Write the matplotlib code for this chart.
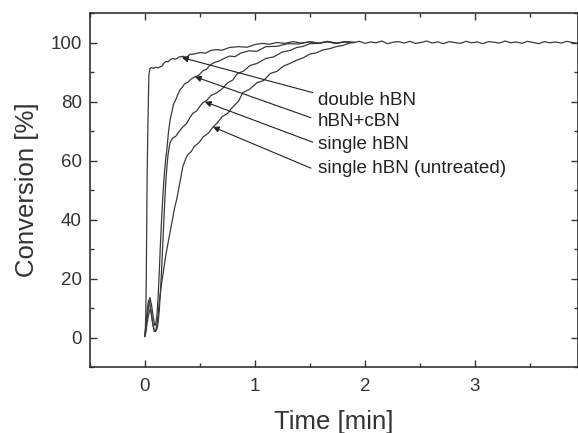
import numpy as np
import matplotlib
matplotlib.use('Agg')
import matplotlib.pyplot as plt
from matplotlib.ticker import MultipleLocator

plt.rcParams['font.family'] = ['Liberation Sans', 'DejaVu Sans']

# data: time [min], conversion [%]
t_double = [0.0, 0.004, 0.008, 0.012, 0.016, 0.02, 0.026, 0.032, 0.036, 0.045, 0.06, 0.08, 0.1, 0.12,
            0.14, 0.155, 0.17, 0.19, 0.21, 0.23, 0.255, 0.28, 0.31, 0.345, 0.38, 0.41, 0.45, 0.5, 0.55,
            0.6, 0.65, 0.7, 0.77, 0.85, 0.93, 1.0, 1.07, 1.13, 1.2, 1.27, 1.35, 1.42, 1.5, 1.58, 1.66,
            1.74, 1.82, 1.9]
c_double = [0.5, 3, 9, 20, 38, 55, 70, 82, 89, 91.2, 91.5, 91.3, 91.6, 91.4, 91.8, 92.0, 92.9, 93.6,
            93.4, 94.2, 94.6, 94.3, 95.1, 95.3, 95.0, 96.0, 96.1, 96.6, 96.4, 97.3, 97.6, 97.4, 98.3,
            98.6, 98.4, 99.3, 99.7, 99.4, 100.0, 99.7, 100.3, 99.8, 100.2, 99.7, 100.4, 99.8, 100.2, 100.0]

t_hc = [0.0, 0.01, 0.02, 0.03, 0.045, 0.06, 0.075, 0.09, 0.1, 0.11, 0.12, 0.13, 0.14, 0.15, 0.16, 0.17,
        0.18, 0.19, 0.2, 0.215, 0.23, 0.245, 0.26, 0.28, 0.3, 0.32, 0.34, 0.36, 0.39, 0.42, 0.455, 0.49,
        0.53, 0.56, 0.59, 0.63, 0.68, 0.72, 0.77, 0.82, 0.87, 0.95, 1.02, 1.1, 1.2, 1.3, 1.4, 1.5, 1.58,
        1.66, 1.74, 1.82, 1.9]
c_hc = [1, 5, 9, 12, 13.5, 11, 7, 4, 5, 8, 14, 22, 31, 39, 46, 52, 57, 61, 64, 70, 74, 76.5, 79, 80.6,
        82.5, 84, 84.8, 86, 86.5, 87.6, 88.4, 88.9, 90.5, 90.9, 92.3, 93.2, 93.8, 94.6, 95.4, 95.2, 96.4,
        97.2, 97.0, 98.6, 98.7, 99.6, 99.5, 100.3, 99.8, 100.2, 99.7, 100.3, 100.0]

t_single = [0.0, 0.01, 0.02, 0.035, 0.05, 0.065, 0.08, 0.095, 0.11, 0.12, 0.13, 0.14, 0.15, 0.16, 0.17,
            0.18, 0.19, 0.2, 0.21, 0.227, 0.25, 0.28, 0.31, 0.345, 0.38, 0.41, 0.436, 0.47, 0.5, 0.527,
            0.56, 0.6, 0.655, 0.7, 0.755, 0.8, 0.836, 0.9, 0.955, 1.02, 1.1, 1.17, 1.25, 1.32, 1.38,
            1.44, 1.5, 1.58, 1.66, 1.74, 1.82, 1.9]
c_single = [0.5, 2, 5, 8, 10, 6, 3, 2, 3, 5, 9, 15, 22, 30, 38, 46, 53, 58, 62, 66, 67.5, 68.2, 69.8,
            71.4, 72.6, 74.6, 76, 76.8, 78.4, 79.6, 80.3, 82, 83, 84.2, 86.4, 87.3, 89.3, 90.4, 92.2,
            92.9, 94.6, 95.1, 96.8, 97.3, 98.3, 98.7, 99.6, 99.7, 100.3, 99.7, 100.2, 100.0]

t_untr = [0.0, 0.01, 0.025, 0.04, 0.055, 0.07, 0.085, 0.1, 0.115, 0.13, 0.15, 0.17, 0.19, 0.21, 0.23,
          0.25, 0.27, 0.29, 0.31, 0.33, 0.345, 0.37, 0.39, 0.42, 0.45, 0.49, 0.53, 0.58, 0.62, 0.66, 0.7,
          0.75, 0.8, 0.85, 0.89, 0.95, 1.02, 1.08, 1.14, 1.2, 1.26, 1.32, 1.38, 1.44, 1.5, 1.56, 1.62,
          1.68, 1.74, 1.8, 1.86, 1.9]
c_untr = [0.3, 4, 8, 12.5, 9, 5, 2, 2.5, 6, 12, 18, 23, 28, 32, 36, 40, 44, 47, 51, 55, 58, 60.5, 62,
          63.0, 64.8, 66.0, 68, 69.4, 71.4, 72.8, 74.8, 75.9, 78.2, 80.0, 83, 84.1, 86.4, 87.1, 89.5,
          90.2, 92, 92.9, 94, 94.8, 96.1, 96.5, 97.5, 97.9, 98.6, 99.0, 99.8, 100.0]

# common noisy plateau after all curves have reached full conversion
c_tail = [100.0, 100.4, 99.7, 100.2, 99.9, 100.5, 99.6, 100.1, 100.3, 99.8, 100.4, 99.7, 100.0, 100.5,
          99.8, 100.2, 99.6, 100.3, 100.0, 99.7, 100.4, 99.9, 100.2, 99.6, 100.3, 100.1, 99.8, 100.5,
          99.9, 100.2, 99.7, 100.4, 100.0, 99.6, 100.3, 99.9, 100.2, 99.8, 100.4, 100.0, 99.7]
t_tail = np.linspace(1.9, 3.94, len(c_tail))

labels = ['double hBN', 'hBN+cBN', 'single hBN', 'single hBN (untreated)']
label_pos = [(1.573, 80.3), (1.573, 73.2), (1.573, 65.5), (1.573, 57.2)]
arrow_head = [(0.336, 94.9), (0.455, 88.4), (0.545, 79.9), (0.618, 71.4)]
arrow_tail = [(1.527, 83.0), (1.51, 74.5), (1.527, 66.2), (1.51, 57.4)]

fig = plt.figure(figsize=(5.78, 4.33), dpi=100)
ax = fig.add_axes([90/578, 66/433, 488/578, 354/433])

lc = '#3a3a3a'
for tt, cc in [(t_double, c_double), (t_hc, c_hc), (t_single, c_single), (t_untr, c_untr)]:
    ax.plot(tt, cc, color=lc, lw=0.9)
ax.plot(t_tail, c_tail, color=lc, lw=0.9)

for lab, lp, ah, at in zip(labels, label_pos, arrow_head, arrow_tail):
    ax.annotate('', xy=ah, xytext=at,
                arrowprops=dict(arrowstyle='-|>', color='#222222', lw=0.8, mutation_scale=9,
                                shrinkA=0, shrinkB=0))
    ax.text(lp[0], lp[1], lab, fontsize=13.6, ha='left', va='center', color='#222222')

ax.set_xlim(-0.5, 3.94)
ax.set_ylim(-10, 110)
ax.set_xticks([0, 1, 2, 3])
ax.set_yticks([0, 20, 40, 60, 80, 100])
ax.xaxis.set_minor_locator(MultipleLocator(0.5))
ax.yaxis.set_minor_locator(MultipleLocator(10))
ax.tick_params(which='both', direction='in', top=True, right=True, colors='#333333',
               labelcolor='#333333', labelsize=13.5, width=1)
ax.tick_params(which='major', length=5)
ax.tick_params(which='minor', length=3)
ax.tick_params(axis='x', pad=8)
ax.tick_params(axis='y', pad=6)
for s in ax.spines.values():
    s.set_linewidth(1.2)
    s.set_color('#333333')

ax.set_xlabel('Time [min]', fontsize=18.5, color='#333333', labelpad=11)
ax.set_ylabel('Conversion [%]', fontsize=18.5, color='#333333', labelpad=8)

fig.savefig('out.png', dpi=100)
